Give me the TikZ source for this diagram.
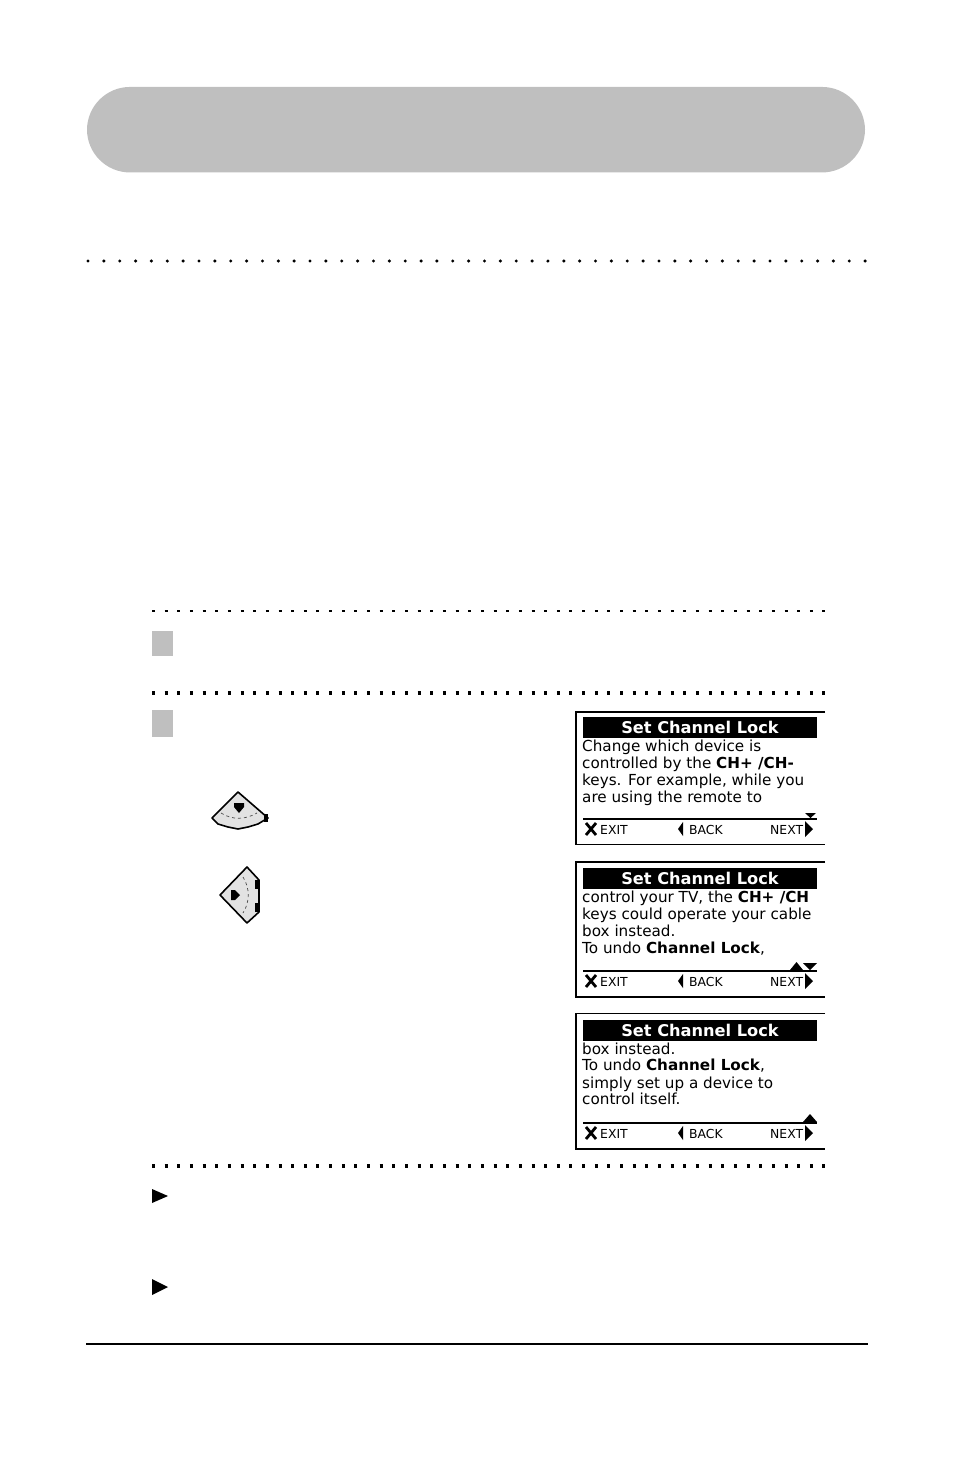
\documentclass[tikz,border=0pt]{standalone}
\usepackage{fontspec}
\usepackage{tikz}
\newfontfamily\lcdfont{DejaVu Sans}
\definecolor{bandgray}{HTML}{BFBFBF}
\definecolor{keygray}{HTML}{E2E2E2}
\tikzset{
	roundrule/.style={line width=3.4pt,line cap=round,dash pattern=on 0pt off 15.86pt},
	thinrule/.style={line width=2pt,dash pattern=on 3pt off 9.65pt},
	thickrule/.style={line width=3.8pt,dash pattern=on 3pt off 9.65pt},
	stepbox/.style={fill=bandgray,inner sep=0pt,minimum width=21pt},
	titlebar/.style={fill=black,text=white,inner sep=0pt,minimum width=234pt,minimum height=21pt,font=\lcdfont\fontsize{16.2}{16}\selectfont\bfseries},
	lcdline/.style={anchor=base west,inner sep=0pt,font=\lcdfont\fontsize{15.2}{16}\selectfont},
	softkey/.style={anchor=base west,inner sep=0pt,font=\lcdfont\fontsize{12.4}{13}\selectfont},
	frameline/.style={line width=1.6pt},
	keyicon/.style={fill=keygray,draw=black,line width=1.6pt,line join=round},
	keyarc/.style={line width=0.7pt,dashed,black!70},
}
\begin{document}
\begin{tikzpicture}[x=1pt,y=-1pt]
	\useasboundingbox (0,0) rectangle (954,1475);
	% banner and rules
	\node[fill=bandgray,rounded corners=43pt,inner sep=0pt,minimum width=778pt,minimum height=85.5pt] (banner) at (476,129.7) {};
	\draw[roundrule] (88,261) -- (866,261);
	\draw[thinrule] (152,611) -- (825,611);
	\draw[thickrule] (152,693) -- (825,693);
	\draw[thickrule] (152,1166) -- (825,1166);
	\draw[line width=2pt] (86,1344) -- (868,1344);
	% steps
	\node[stepbox,minimum height=25pt] (stepone) at (162.5,643.5) {};
	\node[stepbox,minimum height=27pt] (steptwo) at (162.5,723.5) {};
	\fill (152,1189) -- (168,1196) -- (152,1203) -- cycle;
	\fill (152,1279) -- (168,1287) -- (152,1295) -- cycle;
	% up key
	\draw[keyicon] (238,792) -- (268,818) -- (258,824) -- (248,827) -- (238,829) -- (228,827) -- (218,824) -- (212,818) -- cycle;
	\draw[keyarc] (221,813) .. controls (232,820) and (245,820) .. (257,813);
	\fill (234,803) -- (244,803) -- (244,807) -- (239,813) -- (234,807) -- cycle;
	\fill (264,814) rectangle (268,822);
	% right key
	\draw[keyicon] (220,895) -- (247,867) -- (259,880) -- (259,912) -- (247,923) -- cycle;
	\draw[keyarc] (243,877) .. controls (250,888) and (250,902) .. (243,913);
	\fill (231,890) -- (235,890) -- (240,895) -- (235,900) -- (231,900) -- cycle;
	\fill (255,880) rectangle (259,889);
	\fill (255,903) rectangle (259,912);
	% first screen
	\draw[frameline] (825,712) -- (576,712) -- (576,844.5) -- (825,844.5);
	\node[titlebar] (titleone) at (700,727.5) {Set Channel Lock};
	\node[lcdline] (oneA) at (582,751) {Change which device is};
	\node[lcdline] (oneB) at (582,768.5) {controlled by the \textbf{CH+ /CH-}};
	\node[lcdline] (oneC) at (582,785.5) {keys. For example, while you};
	\node[lcdline] (oneD) at (582,802.5) {are using the remote to};
	\draw[line width=1.5pt] (583,819) -- (817,819);
	\fill (805,813) -- (816,813) -- (810.5,818) -- cycle;
	\node[softkey] (exitone) at (600,834) {EXIT};
	\node[softkey] (backone) at (689,834) {BACK};
	\node[softkey] (nextone) at (770,834) {NEXT};
	\draw[line width=2.8pt] (586,823) -- (596,835) (596,823) -- (586,835);
	\fill (683,822) -- (683,836) -- (678,829) -- cycle;
	\fill (805,821) -- (813,829) -- (805,837) -- cycle;
	% second screen
	\draw[frameline] (825,862) -- (576,862) -- (576,997) -- (825,997);
	\node[titlebar] (titletwo) at (700,878) {Set Channel Lock};
	\node[lcdline] (twoA) at (582,902) {control your TV, the \textbf{CH+ /CH}};
	\node[lcdline] (twoB) at (582,919.5) {keys could operate your cable};
	\node[lcdline] (twoC) at (582,936.5) {box instead.};
	\node[lcdline] (twoD) at (582,953) {To undo \textbf{Channel Lock},};
	\draw[line width=2.5pt] (583,971) -- (817,971);
	\fill (790,970) -- (803,970) -- (796.5,962) -- cycle;
	\fill (803,963) -- (817,963) -- (810,970) -- cycle;
	\node[softkey] (exittwo) at (600,986) {EXIT};
	\node[softkey] (backtwo) at (689,986) {BACK};
	\node[softkey] (nexttwo) at (770,986) {NEXT};
	\draw[line width=2.8pt] (586,975) -- (596,987) (596,975) -- (586,987);
	\fill (683,974) -- (683,988) -- (678,981) -- cycle;
	\fill (805,973) -- (813,981) -- (805,989) -- cycle;
	% third screen
	\draw[frameline] (825,1013.5) -- (576,1013.5) -- (576,1149) -- (825,1149);
	\node[titlebar] (titlethree) at (700,1030) {Set Channel Lock};
	\node[lcdline] (threeA) at (582,1054) {box instead.};
	\node[lcdline] (threeB) at (582,1070.5) {To undo \textbf{Channel Lock},};
	\node[lcdline] (threeC) at (582,1088) {simply set up a device to};
	\node[lcdline] (threeD) at (582,1104.5) {control itself.};
	\draw[line width=2.5pt] (583,1123) -- (817,1123);
	\fill (803,1122) -- (817,1122) -- (810,1114) -- cycle;
	\node[softkey] (exitthree) at (600,1138) {EXIT};
	\node[softkey] (backthree) at (689,1138) {BACK};
	\node[softkey] (nextthree) at (770,1138) {NEXT};
	\draw[line width=2.8pt] (586,1127) -- (596,1139) (596,1127) -- (586,1139);
	\fill (683,1126) -- (683,1140) -- (678,1133) -- cycle;
	\fill (805,1125) -- (813,1133) -- (805,1141) -- cycle;
\end{tikzpicture}
\end{document}
